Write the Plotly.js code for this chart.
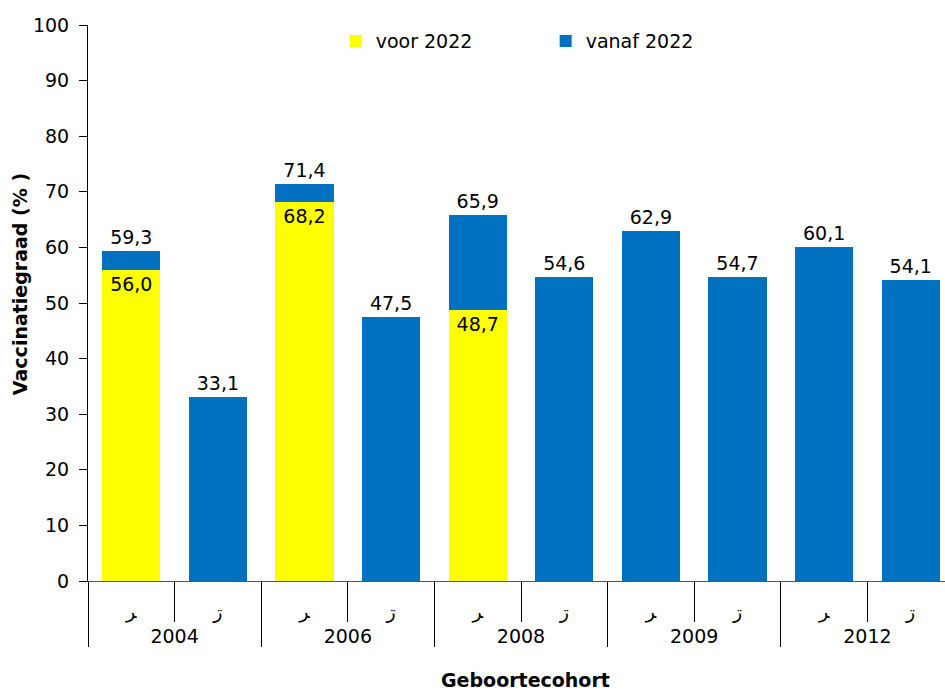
<!DOCTYPE html>
<html>
<head>
<meta charset="utf-8">
<script src="https://cdn.plot.ly/plotly-3.0.1.min.js"></script>
<style>html,body{margin:0;padding:0;background:#fff;}#chart{width:945px;height:694px;}</style>
</head>
<body>
<div id="chart"></div>
<script>
const cohorts = ["2004","2004","2006","2006","2008","2008","2009","2009","2012","2012"];
const genders = ["ﺮ","ڗ","ﺮ","ڗ","ﺮ","ڗ","ﺮ","ڗ","ﺮ","ڗ"];
const voor2022 = [56.0, 0, 68.2, 0, 48.7, 0, 0, 0, 0, 0];
const totaal = [59.3, 33.1, 71.4, 47.5, 65.9, 54.6, 62.9, 54.7, 60.1, 54.1];
const vanaf2022 = totaal.map((t, i) => +(t - voor2022[i]).toFixed(1));

// padding spans keep the first label row's box tall enough for the two-level axis layout
const pad = "<span style='font-size:31px'>&nbsp;</span>";
const genderLabels = genders.map(g => pad + g + pad);

const fmt = v => v.toFixed(1).replace('.', ',');
const fnt = {family: "DejaVu Sans", size: 19, color: "#000"};

const traces = [
  {
    type: "bar", name: "voor 2022",
    x: [cohorts, genderLabels], y: voor2022,
    marker: {color: "#FFFF00"},
    text: voor2022.map(v => v > 0 ? fmt(v) : ""),
    textposition: "inside", insidetextanchor: "end",
    textfont: fnt, textangle: 0, cliponaxis: false
  },
  {
    type: "bar", name: "vanaf 2022",
    x: [cohorts, genderLabels], y: vanaf2022,
    marker: {color: "#0070C0"},
    text: totaal.map(fmt),
    textposition: "outside", textangle: 0,
    textfont: fnt, cliponaxis: false
  }
];

const layout = {
  width: 945, height: 694,
  margin: {l: 88, r: 0, t: 25, b: 113},
  barmode: "stack", bargap: 0.33,
  font: {family: "DejaVu Sans", size: 19, color: "#000"},
  paper_bgcolor: "#fff", plot_bgcolor: "#fff",
  showlegend: true,
  legend: {orientation: "h", traceorder: "normal", x: 0.289, y: 1.005, xanchor: "left", yanchor: "top",
           entrywidth: 165, font: {family: "DejaVu Sans", size: 19}, bgcolor: "rgba(0,0,0,0)"},
  xaxis: {
    type: "multicategory",
    range: [-0.5, 9.396],
    showline: true, linecolor: "#555", linewidth: 1,
    ticks: "outside", tickson: "boundaries", ticklen: 40, tickcolor: "#000",
    ticklabelstandoff: 13,
    showdividers: true, dividercolor: "#000", dividerwidth: 1,
    tickfont: {family: "DejaVu Sans", size: 19},
    showgrid: false, zeroline: false
  },
  yaxis: {
    range: [0, 100], dtick: 10,
    showline: true, linecolor: "#000", linewidth: 1,
    ticks: "outside", ticklen: 8, tickcolor: "#000",
    ticklabelstandoff: 6,
    tickfont: {family: "DejaVu Sans", size: 19},
    showgrid: false, zeroline: false
  },
  annotations: [
    {
      text: "<b>Vaccinatiegraad (% )</b>", textangle: -90,
      xref: "paper", yref: "paper", x: -0.0793, y: 0.534,
      xanchor: "center", yanchor: "middle", showarrow: false,
      font: {family: "DejaVu Sans", size: 19, color: "#000"}
    },
    {
      text: "<b>Geboortecohort</b>",
      xref: "paper", yref: "paper", x: 0.51, y: -0.178,
      xanchor: "center", yanchor: "middle", showarrow: false,
      font: {family: "DejaVu Sans", size: 19, color: "#000"}
    }
  ]
};

Plotly.newPlot("chart", traces, layout, {displayModeBar: false, staticPlot: true});
</script>
</body>
</html>
